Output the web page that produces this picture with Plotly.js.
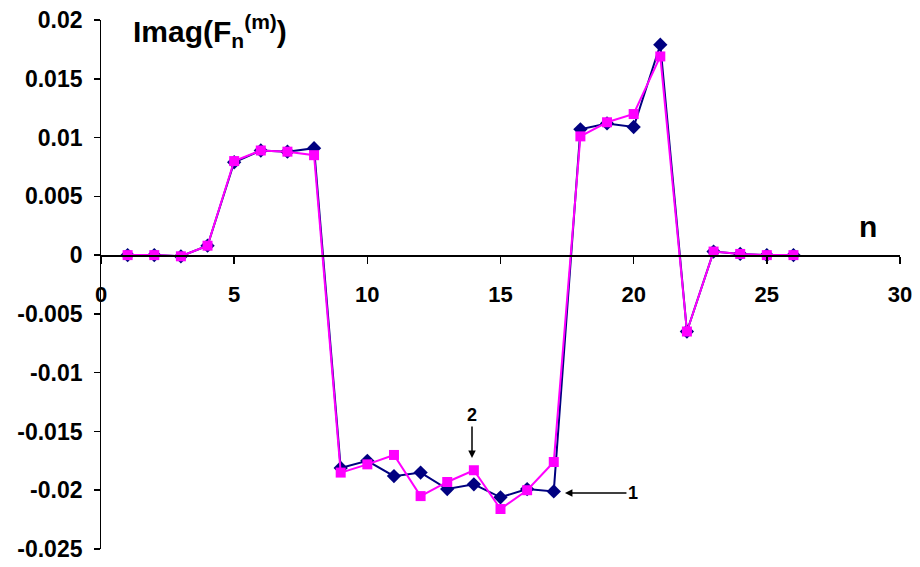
<!DOCTYPE html>
<html>
<head>
<meta charset="utf-8">
<script src="https://cdn.plot.ly/plotly-3.0.1.min.js"></script>
<style>html,body{margin:0;padding:0;background:#fff;}#chart{width:920px;height:567px;}</style>
</head>
<body>
<div id="chart"></div>
<script>
const n = [1,2,3,4,5,6,7,8,9,10,11,12,13,14,15,16,17,18,19,20,21,22,23,24,25,26];
const series1 = [0,0,-0.0001,0.0008,0.0079,0.0089,0.0088,0.0091,-0.0181,-0.0175,-0.0188,-0.0185,-0.0199,-0.0195,-0.0206,-0.0199,-0.0201,0.0107,0.0112,0.0109,0.0179,-0.0065,0.0003,0.0001,0,0];
const series2 = [0,0,-0.0001,0.0008,0.0080,0.0089,0.0088,0.0085,-0.0185,-0.0178,-0.0170,-0.0205,-0.0193,-0.0183,-0.0216,-0.0200,-0.0176,0.0101,0.0113,0.0120,0.0169,-0.0065,0.0003,0.0001,0,0];
const yTickVals = [0.02,0.015,0.01,0.005,0,-0.005,-0.01,-0.015,-0.02,-0.025];
const yTickText = ["0.02","0.015","0.01","0.005","0","-0.005","-0.01","-0.015","-0.02","-0.025"];
const xTickVals = [0,5,10,15,20,25,30];
const xTickText = ["0","5","10","15","20","25","30"];

const font = "Liberation Sans, Arial, sans-serif";
const pad = "\u00a0";
const traces = [
  {x:n, y:series1, mode:"lines+markers", name:"1",
   line:{color:"#000080", width:2},
   marker:{symbol:"diamond", size:11, color:"#000080"}},
  {x:n, y:series2, mode:"lines+markers", name:"2",
   line:{color:"#FF00FF", width:2},
   marker:{symbol:"square", size:10, color:"#FF00FF"}}
];
const layout = {
  width:920, height:567,
  margin:{l:101, r:20, t:20, b:18},
  paper_bgcolor:"#fff", plot_bgcolor:"#fff",
  showlegend:false,
  font:{family:font, color:"#000"},
  xaxis:{range:[0,30], tickvals:xTickVals, ticktext:xTickText,
    anchor:"free", position:0.025/0.045, showline:true, linecolor:"#000", linewidth:1.5,
    ticks:"outside", ticklen:7, tickcolor:"#000", tickwidth:1.5, ticklabelstandoff:12,
    showgrid:false, zeroline:false,
    tickfont:{family:font, size:22, color:"#000", weight:"bold"}},
  yaxis:{range:[-0.025,0.02], tickvals:yTickVals, ticktext:yTickText.map(t => t + pad),
    showline:true, linecolor:"#000", linewidth:1.5,
    ticks:"outside", ticklen:6, tickcolor:"#000", tickwidth:1.5,
    showgrid:false, zeroline:false,
    tickfont:{family:font, size:23, color:"#000", weight:"bold"}},
  annotations:[
    {xref:"paper", yref:"paper", x:0.037, y:0.979, xanchor:"left", yanchor:"middle",
     text:"<b>Imag(F<sub>n</sub><sup>(m)</sup>)</b>", showarrow:false,
     font:{family:font, size:30, color:"#000"}},
    {xref:"x", yref:"y", x:28.8, y:0.0024, text:"<b>n</b>", showarrow:false,
     font:{family:font, size:30, color:"#000"}},
    {xref:"x", yref:"y", x:13.93, y:-0.01726, text:"<b>2</b>", showarrow:true,
     ax:0, ay:-43, arrowhead:2, arrowsize:1, arrowwidth:1.5, arrowcolor:"#000",
     font:{family:font, size:18, color:"#000"}},
    {xref:"x", yref:"y", x:17.42, y:-0.02024, text:"<b>1</b>", showarrow:true,
     ax:68, ay:0, arrowhead:2, arrowsize:1, arrowwidth:1.5, arrowcolor:"#000",
     font:{family:font, size:18, color:"#000"}}
  ]
};
Plotly.newPlot("chart", traces, layout, {displayModeBar:false, staticPlot:true});
</script>
</body>
</html>
